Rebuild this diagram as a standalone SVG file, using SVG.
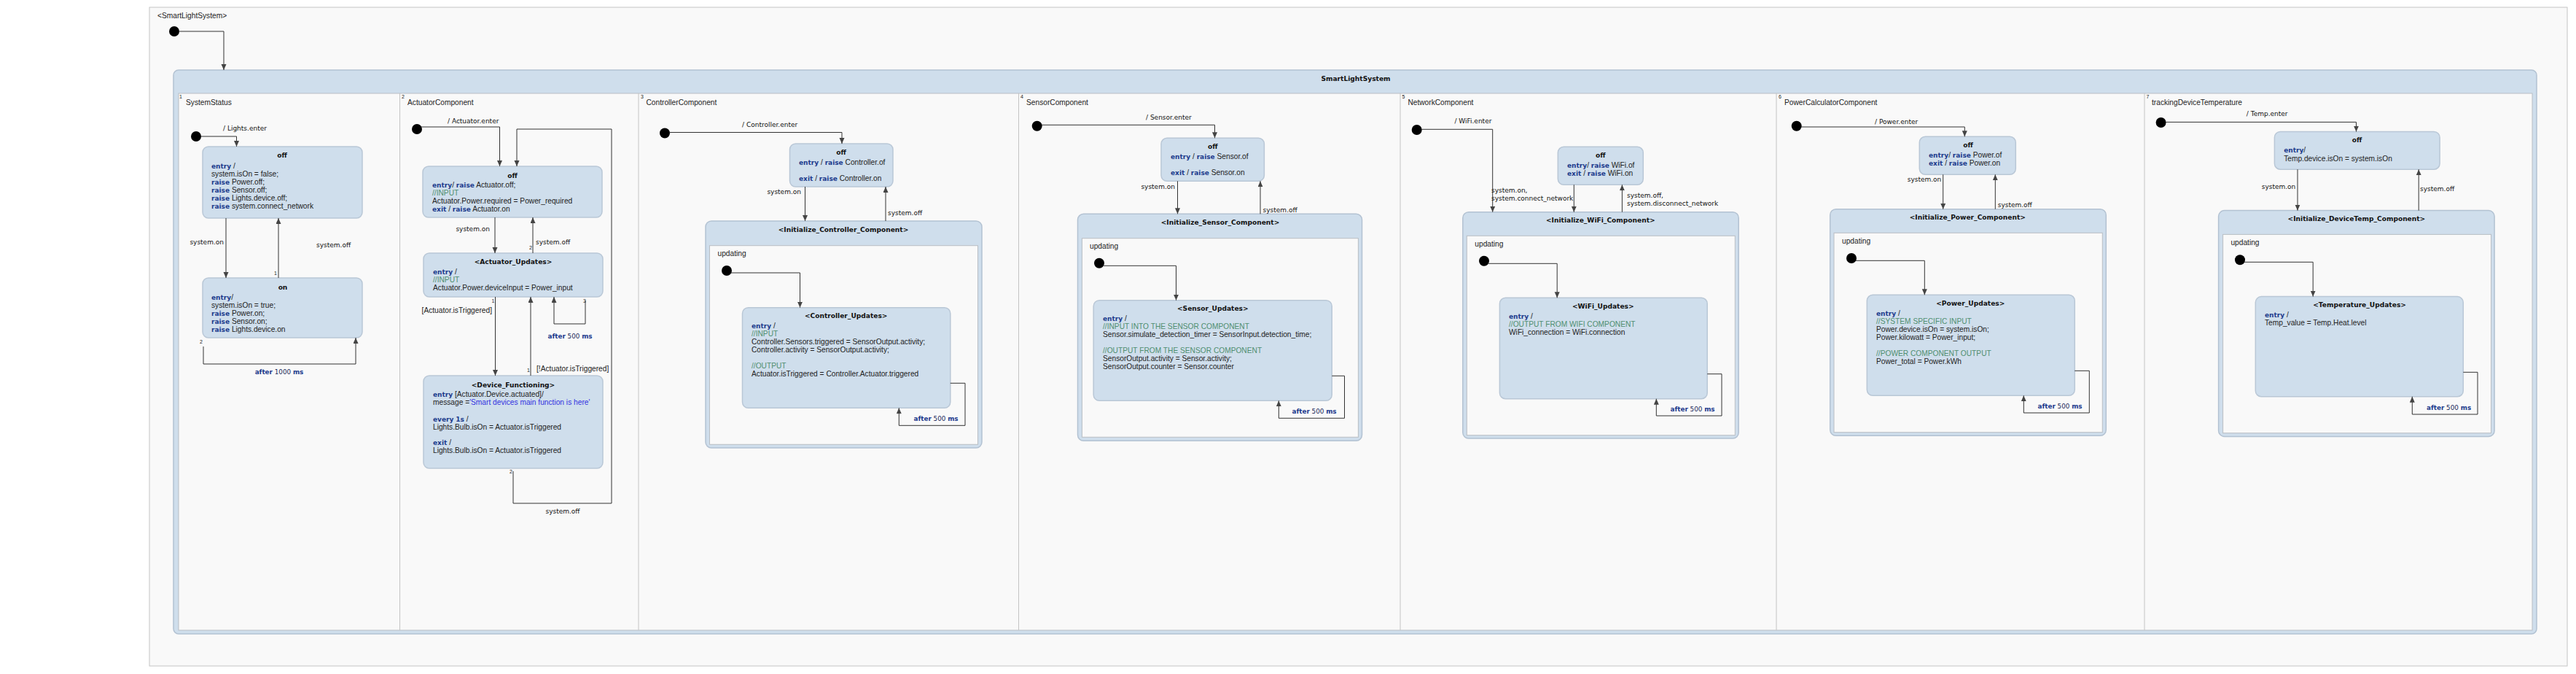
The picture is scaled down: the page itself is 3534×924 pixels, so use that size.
<svg xmlns="http://www.w3.org/2000/svg" width="3534" height="924" viewBox="0 0 3534 924">
<style>
.frame{fill:#f9f9f9;stroke:#c4c4c4;stroke-width:1}
.box{fill:#cfdeec;stroke:#b3c2d2;stroke-width:1.5}
.reg{fill:#f9f9f9;stroke:#b9bec4;stroke-width:1}
.div{stroke:#c4c4c4;stroke-width:1}
.st{fill:#cfdeec;stroke:#b9c7d6;stroke-width:1.5}
.b{font-family:"Liberation Sans",Arial,sans-serif;font-size:10.2px;fill:#222}
.kw{font-family:"DejaVu Sans",Verdana,sans-serif;font-weight:bold;font-size:9px;fill:#1c3a8c}
.cm{fill:#4f8f70}
.str{fill:#3232e0}
.ttl{font-family:"DejaVu Sans",Verdana,sans-serif;font-weight:bold;font-size:9.1px;fill:#111;text-anchor:middle}
.tl{font-family:"DejaVu Sans",Verdana,sans-serif;font-size:9px;fill:#111}
.af{font-family:"DejaVu Sans",Verdana,sans-serif;font-size:8.8px;fill:#1a2a5a;text-anchor:middle}
.af .k{font-weight:bold;fill:#1c3a8c}
.n{font-family:"Liberation Sans",Arial,sans-serif;font-size:7px;fill:#222}
.end{text-anchor:end}
.mid{text-anchor:middle}
.c{fill:none;stroke:#333;stroke-width:1;marker-end:url(#ah)}
.dot{fill:#000}
</style>
<defs>
<marker id="ah" markerWidth="8" markerHeight="8" refX="8" refY="3.5" orient="auto" markerUnits="userSpaceOnUse"><path d="M0,0 L8,3.5 L0,7 z" fill="#444"/></marker>
</defs>
<rect x="0" y="0" width="3534" height="924" fill="#ffffff"/>
<g id="root">
<rect class="frame" x="205" y="10" width="3317" height="903"/>
<text class="b" x="216" y="25">&lt;SmartLightSystem&gt;</text>
<circle class="dot" cx="239" cy="43" r="7"/>
</g>
<g id="SmartLightSystem">
<rect class="box" x="238" y="96" width="3242" height="773" rx="7"/>
<rect class="reg" x="245" y="128" width="3229" height="736"/>
<text class="ttl" x="1860" y="110.5">SmartLightSystem</text>
<line class="div" x1="548.5" y1="128" x2="548.5" y2="864"/>
<line class="div" x1="876" y1="128" x2="876" y2="864"/>
<line class="div" x1="1397.5" y1="128" x2="1397.5" y2="864"/>
<line class="div" x1="1921" y1="128" x2="1921" y2="864"/>
<line class="div" x1="2437" y1="128" x2="2437" y2="864"/>
<line class="div" x1="2942" y1="128" x2="2942" y2="864"/>
<text class="n" x="246" y="135">1</text><text class="b" x="255" y="143.5">SystemStatus</text>
<text class="n" x="551" y="135">2</text><text class="b" x="559" y="143.5">ActuatorComponent</text>
<text class="n" x="879" y="135">3</text><text class="b" x="886.5" y="143.5">ControllerComponent</text>
<text class="n" x="1400" y="135">4</text><text class="b" x="1408" y="143.5">SensorComponent</text>
<text class="n" x="1923.5" y="135">5</text><text class="b" x="1931.4" y="143.5">NetworkComponent</text>
<text class="n" x="2440" y="135">6</text><text class="b" x="2448" y="143.5">PowerCalculatorComponent</text>
<text class="n" x="2944.5" y="135">7</text><text class="b" x="2952" y="143.5">trackingDeviceTemperature</text>
</g>

<!-- Region 1 -->
<g id="r1_init"><circle class="dot" cx="269" cy="187" r="7"/></g>
<g id="r1_off">
<rect class="st" x="278" y="201" width="219" height="98" rx="8"/>
<text class="ttl" x="387" y="216">off</text>
<text class="b" x="290" y="230.5"><tspan class="kw">entry</tspan> /</text>
<text class="b" x="290" y="241.5">system.isOn = false;</text>
<text class="b" x="290" y="252.5"><tspan class="kw">raise</tspan> Power.off;</text>
<text class="b" x="290" y="263.5"><tspan class="kw">raise</tspan> Sensor.off;</text>
<text class="b" x="290" y="274.5"><tspan class="kw">raise</tspan> Lights.device.off;</text>
<text class="b" x="290" y="285.5"><tspan class="kw">raise</tspan> system.connect_network</text>
</g>
<g id="r1_on">
<rect class="st" x="278" y="381" width="219" height="82" rx="8"/>
<text class="ttl" x="388" y="397">on</text>
<text class="b" x="290" y="410.5"><tspan class="kw">entry</tspan>/</text>
<text class="b" x="290" y="421.5">system.isOn = true;</text>
<text class="b" x="290" y="432.5"><tspan class="kw">raise</tspan> Power.on;</text>
<text class="b" x="290" y="443.5"><tspan class="kw">raise</tspan> Sensor.on;</text>
<text class="b" x="290" y="454.5"><tspan class="kw">raise</tspan> Lights.device.on</text>
</g>

<!-- Region 2 -->
<g id="r2_init"><circle class="dot" cx="572" cy="177" r="7"/></g>
<g id="r2_off">
<rect class="st" x="580" y="228" width="246" height="70" rx="8"/>
<text class="ttl" x="703" y="243.5">off</text>
<text class="b" x="593" y="257"><tspan class="kw">entry</tspan>/ <tspan class="kw">raise</tspan> Actuator.off;</text>
<text class="b cm" x="593" y="268">//INPUT</text>
<text class="b" x="593" y="279">Actuator.Power.required = Power_required</text>
<text class="b" x="593" y="290"><tspan class="kw">exit</tspan> / <tspan class="kw">raise</tspan> Actuator.on</text>
</g>
<g id="r2_updates">
<rect class="st" x="581" y="347" width="246" height="60" rx="8"/>
<text class="ttl" x="704" y="361.5">&lt;Actuator_Updates&gt;</text>
<text class="b" x="594" y="375.5"><tspan class="kw">entry</tspan> /</text>
<text class="b cm" x="594" y="386.5">//INPUT</text>
<text class="b" x="594" y="397.5">Actuator.Power.deviceInput = Power_input</text>
</g>
<g id="r2_device">
<rect class="st" x="581" y="515" width="246" height="127" rx="8"/>
<text class="ttl" x="704" y="530.5">&lt;Device_Functioning&gt;</text>
<text class="b" x="594" y="544"><tspan class="kw">entry</tspan> [Actuator.Device.actuated]/</text>
<text class="b" x="594" y="555">message =<tspan class="str">'Smart devices main function is here'</tspan></text>
<text class="b" x="594" y="577.5"><tspan class="kw">every</tspan> <tspan class="kw">1s</tspan> /</text>
<text class="b" x="594" y="588.5">Lights.Bulb.isOn = Actuator.isTriggered</text>
<text class="b" x="594" y="610"><tspan class="kw">exit</tspan> /</text>
<text class="b" x="594" y="621">Lights.Bulb.isOn = Actuator.isTriggered</text>
</g>

<!-- Region 3 -->
<g id="r3_init"><circle class="dot" cx="912" cy="182.5" r="7"/></g>
<g id="r3_off">
<rect class="st" x="1083.5" y="197" width="141.5" height="59" rx="8"/>
<text class="ttl" x="1154" y="212">off</text>
<text class="b" x="1096" y="226"><tspan class="kw">entry</tspan> / <tspan class="kw">raise</tspan> Controller.of</text>
<text class="b" x="1096" y="248"><tspan class="kw">exit</tspan> / <tspan class="kw">raise</tspan> Controller.on</text>
</g>
<g id="r3_init_comp">
<rect class="box" x="968" y="303" width="379" height="311" rx="8"/>
<rect class="reg" x="973.5" y="336.7" width="368" height="272.6"/>
<text class="ttl" x="1157" y="318">&lt;Initialize_Controller_Component&gt;</text>
<text class="b" x="984.5" y="351">updating</text>
<circle class="dot" cx="997" cy="371" r="7"/>
</g>
<g id="r3_updates">
<rect class="st" x="1018.5" y="421.7" width="285.3" height="137.6" rx="8"/>
<text class="ttl" x="1160.7" y="436">&lt;Controller_Updates&gt;</text>
<text class="b" x="1031" y="450"><tspan class="kw">entry</tspan> /</text>
<text class="b cm" x="1031" y="461">//INPUT</text>
<text class="b" x="1031" y="472">Controller.Sensors.triggered = SensorOutput.activity;</text>
<text class="b" x="1031" y="483">Controller.activity = SensorOutput.activity;</text>
<text class="b cm" x="1031" y="505">//OUTPUT</text>
<text class="b" x="1031" y="516">Actuator.isTriggered = Controller.Actuator.triggered</text>
</g>

<!-- Region 4 -->
<g id="r4_init"><circle class="dot" cx="1422.7" cy="172.7" r="7"/></g>
<g id="r4_off">
<rect class="st" x="1593" y="189.3" width="141.4" height="59" rx="8"/>
<text class="ttl" x="1663.8" y="203.8">off</text>
<text class="b" x="1606" y="218.2"><tspan class="kw">entry</tspan> / <tspan class="kw">raise</tspan> Sensor.of</text>
<text class="b" x="1606" y="240.2"><tspan class="kw">exit</tspan> / <tspan class="kw">raise</tspan> Sensor.on</text>
</g>
<g id="r4_init_comp">
<rect class="box" x="1478.5" y="293.3" width="390" height="311" rx="8"/>
<rect class="reg" x="1484.4" y="326.7" width="379" height="272.6"/>
<text class="ttl" x="1674" y="308.2">&lt;Initialize_Sensor_Component&gt;</text>
<text class="b" x="1495" y="341.2">updating</text>
<circle class="dot" cx="1508" cy="360.7" r="7"/>
</g>
<g id="r4_updates">
<rect class="st" x="1500.2" y="411.7" width="327" height="137.6" rx="8"/>
<text class="ttl" x="1663.8" y="426.2">&lt;Sensor_Updates&gt;</text>
<text class="b" x="1513" y="440.2"><tspan class="kw">entry</tspan> /</text>
<text class="b cm" x="1513" y="451.2">//INPUT INTO THE SENSOR COMPONENT</text>
<text class="b" x="1513" y="462.2">Sensor.simulate_detection_timer = SensorInput.detection_time;</text>
<text class="b cm" x="1513" y="484.2">//OUTPUT FROM THE SENSOR COMPONENT</text>
<text class="b" x="1513" y="495.2">SensorOutput.activity = Sensor.activity;</text>
<text class="b" x="1513" y="506.2">SensorOutput.counter = Sensor.counter</text>
</g>

<!-- Region 5 -->
<g id="r5_init"><circle class="dot" cx="1943.7" cy="178" r="7"/></g>
<g id="r5_off">
<rect class="st" x="2137.3" y="201.3" width="117" height="52" rx="8"/>
<text class="ttl" x="2195.8" y="216.2">off</text>
<text class="b" x="2150" y="230.2"><tspan class="kw">entry</tspan>/ <tspan class="kw">raise</tspan> WiFi.of</text>
<text class="b" x="2150" y="241.2"><tspan class="kw">exit</tspan> / <tspan class="kw">raise</tspan> WiFi.on</text>
</g>
<g id="r5_init_comp">
<rect class="box" x="2006.8" y="290.7" width="378.4" height="310.3" rx="8"/>
<rect class="reg" x="2012.3" y="323.3" width="368" height="273.4"/>
<text class="ttl" x="2195.8" y="305.2">&lt;Initialize_WiFi_Component&gt;</text>
<text class="b" x="2023.3" y="338.2">updating</text>
<circle class="dot" cx="2036" cy="357.7" r="7"/>
</g>
<g id="r5_updates">
<rect class="st" x="2057.4" y="408.3" width="284.8" height="138.4" rx="8"/>
<text class="ttl" x="2199.3" y="423.2">&lt;WiFi_Updates&gt;</text>
<text class="b" x="2070" y="437.2"><tspan class="kw">entry</tspan> /</text>
<text class="b cm" x="2070" y="448.2">//OUTPUT FROM WIFI COMPONENT</text>
<text class="b" x="2070" y="459.2">WiFi_connection = WiFi.connection</text>
</g>

<!-- Region 6 -->
<g id="r6_init"><circle class="dot" cx="2464.7" cy="172.7" r="7"/></g>
<g id="r6_off">
<rect class="st" x="2633.3" y="187.3" width="132" height="52" rx="8"/>
<text class="ttl" x="2700" y="202.2">off</text>
<text class="b" x="2646" y="216.2"><tspan class="kw">entry</tspan>/ <tspan class="kw">raise</tspan> Power.of</text>
<text class="b" x="2646" y="227.2"><tspan class="kw">exit</tspan> /  <tspan class="kw">raise</tspan> Power.on</text>
</g>
<g id="r6_init_comp">
<rect class="box" x="2510.7" y="286.7" width="378.6" height="310.6" rx="8"/>
<rect class="reg" x="2516" y="319.3" width="368.3" height="273.4"/>
<text class="ttl" x="2699.3" y="301.2">&lt;Initialize_Power_Component&gt;</text>
<text class="b" x="2527" y="334.2">updating</text>
<circle class="dot" cx="2540" cy="354" r="7"/>
</g>
<g id="r6_updates">
<rect class="st" x="2561.3" y="404.3" width="285" height="138" rx="8"/>
<text class="ttl" x="2703.3" y="419.2">&lt;Power_Updates&gt;</text>
<text class="b" x="2574" y="433.2"><tspan class="kw">entry</tspan> /</text>
<text class="b cm" x="2574" y="444.2">//SYSTEM SPECIFIC INPUT</text>
<text class="b" x="2574" y="455.2">Power.device.isOn = system.isOn;</text>
<text class="b" x="2574" y="466.2">Power.kilowatt = Power_input;</text>
<text class="b cm" x="2574" y="488.2">//POWER COMPONENT OUTPUT</text>
<text class="b" x="2574" y="499.2">Power_total = Power.kWh</text>
</g>

<!-- Region 7 -->
<g id="r7_init"><circle class="dot" cx="2964.6" cy="168" r="7"/></g>
<g id="r7_off">
<rect class="st" x="3120.4" y="180.5" width="226.7" height="51.7" rx="8"/>
<text class="ttl" x="3233.6" y="194.9">off</text>
<text class="b" x="3133.2" y="209.4"><tspan class="kw">entry</tspan>/</text>
<text class="b" x="3133.2" y="220.5">Temp.device.isOn = system.isOn</text>
</g>
<g id="r7_init_comp">
<rect class="box" x="3043.6" y="288.6" width="378.5" height="309.8" rx="8"/>
<rect class="reg" x="3049.6" y="321.4" width="367.9" height="272.3"/>
<text class="ttl" x="3232.9" y="303">&lt;Initialize_DeviceTemp_Component&gt;</text>
<text class="b" x="3060.4" y="336.1">updating</text>
<circle class="dot" cx="3073" cy="356.2" r="7"/>
</g>
<g id="r7_updates">
<rect class="st" x="3094.3" y="406.6" width="285" height="137.1" rx="8"/>
<text class="ttl" x="3237.1" y="420.9">&lt;Temperature_Updates&gt;</text>
<text class="b" x="3107" y="435.4"><tspan class="kw">entry</tspan> /</text>
<text class="b" x="3107" y="446.2">Temp_value = Temp.Heat.level</text>
</g>

<g id="connectors">
<path class="c" d="M245,43 H307 V96"/>
<!-- region 1 -->
<path class="c" d="M276,187 H324.5 V201"/>
<text class="tl" x="306" y="178.5">/ Lights.enter</text>
<path class="c" d="M310,299 V381"/>
<text class="tl end" x="307" y="334.5">system.on</text>
<path class="c" d="M382,381 V299"/>
<text class="n end" x="380" y="377">1</text>
<text class="tl" x="434" y="338.5">system.off</text>
<path class="c" d="M279,475 V499 H488 V463"/>
<text class="n" x="274" y="471">2</text>
<text class="af" x="383" y="512.5"><tspan class="k">after</tspan> 1000 <tspan class="k">ms</tspan></text>
<!-- region 2 -->
<path class="c" d="M578,174 H685.5 V228"/>
<text class="tl" x="614" y="168.5">/ Actuator.enter</text>
<path class="c" d="M679,298 V347"/>
<text class="tl end" x="672" y="316.5">system.on</text>
<path class="c" d="M731,347 V298"/>
<text class="n end" x="730" y="342">2</text>
<text class="tl" x="735" y="334.5">system.off</text>
<path class="c" d="M679.5,407 V515"/>
<text class="n end" x="678.5" y="414.5">1</text>
<text class="b end" x="675" y="428.5">[Actuator.isTriggered]</text>
<path class="c" d="M728,515 V407"/>
<text class="n end" x="727" y="510">1</text>
<text class="b" x="736" y="508.5">[!Actuator.isTriggered]</text>
<path class="c" d="M803,412 V444 H760 V407"/>
<text class="n" x="800" y="414.5">3</text>
<text class="af" x="782" y="463.5"><tspan class="k">after</tspan> 500 <tspan class="k">ms</tspan></text>
<path class="c" d="M704,646 V690 H839 V177 H709 V228"/>
<text class="n" x="699" y="649">2</text>
<text class="tl mid" x="772" y="703.5">system.off</text>
<!-- region 3 -->
<path class="c" d="M918,181.5 H1155 V197"/>
<text class="tl" x="1018" y="174">/ Controller.enter</text>
<path class="c" d="M1104.5,256 V303"/>
<text class="tl end" x="1099" y="266">system.on</text>
<path class="c" d="M1215,303 V256"/>
<text class="tl" x="1218" y="295">system.off</text>
<path class="c" d="M1003,374 H1097.5 V421.7"/>
<path class="c" d="M1303.8,525.3 H1324 V583.3 H1233.3 V559.3"/>
<text class="af" x="1284" y="577"><tspan class="k">after</tspan> 500 <tspan class="k">ms</tspan></text>
<!-- region 4 -->
<path class="c" d="M1429,171.3 H1666.5 V189.3"/>
<text class="tl" x="1572" y="164">/ Sensor.enter</text>
<path class="c" d="M1615.5,248.3 V293.3"/>
<text class="tl end" x="1612" y="258.5">system.on</text>
<path class="c" d="M1729,293.3 V248.3"/>
<text class="tl" x="1732.6" y="291.2">system.off</text>
<path class="c" d="M1514,364.3 H1613.5 V411.7"/>
<path class="c" d="M1827.3,515.3 H1844.5 V573.3 H1754.3 V549.3"/>
<text class="af" x="1803" y="567.2"><tspan class="k">after</tspan> 500 <tspan class="k">ms</tspan></text>
<!-- region 5 -->
<path class="c" d="M1950,177.3 H2047.7 V290.7"/>
<text class="tl" x="1995.4" y="169.2">/ WiFi.enter</text>
<path class="c" d="M2159.3,253.3 V290.7"/>
<text class="tl" x="2046" y="263.5">system.on,</text>
<text class="tl" x="2046" y="274.5">system.connect_network</text>
<path class="c" d="M2225.4,290.7 V253.3"/>
<text class="tl" x="2232" y="271.2">system.off,</text>
<text class="tl" x="2232" y="282.2">system.disconnect_network</text>
<path class="c" d="M2042,361.3 H2136.2 V408.3"/>
<path class="c" d="M2342.2,512.7 H2362 V570 H2272.3 V546.7"/>
<text class="af" x="2322" y="564.2"><tspan class="k">after</tspan> 500 <tspan class="k">ms</tspan></text>
<!-- region 6 -->
<path class="c" d="M2471,174 H2695.3 V187.3"/>
<text class="tl" x="2572" y="170.2">/ Power.enter</text>
<path class="c" d="M2665.7,239.3 V286.7"/>
<text class="tl end" x="2663.3" y="249.2">system.on</text>
<path class="c" d="M2737.3,286.7 V239.3"/>
<text class="tl" x="2740.7" y="284.2">system.off</text>
<path class="c" d="M2546,357.3 H2640.3 V404.3"/>
<path class="c" d="M2846.3,508.3 H2866.3 V566 H2776.3 V542.3"/>
<text class="af" x="2826" y="560.2"><tspan class="k">after</tspan> 500 <tspan class="k">ms</tspan></text>
<!-- region 7 -->
<path class="c" d="M2971,167.4 H3232.5 V180.5"/>
<text class="tl" x="3081.8" y="159">/ Temp.enter</text>
<path class="c" d="M3152,232.2 V288.6"/>
<text class="tl end" x="3149.3" y="259.4">system.on</text>
<path class="c" d="M3318.2,288.6 V232.2"/>
<text class="tl" x="3320" y="262.1">system.off</text>
<path class="c" d="M3079,359.3 H3173.2 V406.6"/>
<path class="c" d="M3379.3,510.3 H3399 V568 H3309.3 V543.7"/>
<text class="af" x="3359.6" y="561.7"><tspan class="k">after</tspan> 500 <tspan class="k">ms</tspan></text>
</g>
</svg>
